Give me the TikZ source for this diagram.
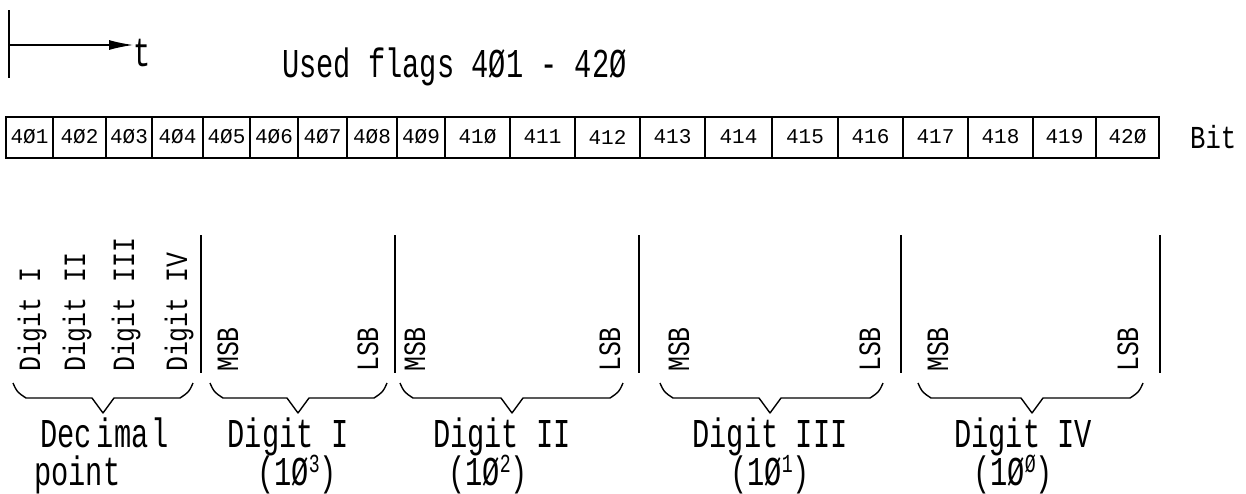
\documentclass[tikz,border=0pt]{standalone}
\usepackage{fontspec}
\newfontfamily\plotfont[FakeStretch=0.7]{Liberation Mono}
\newfontfamily\vertfont[FakeStretch=0.8]{Liberation Mono}
\newfontfamily\boxfont{Liberation Mono}
\usetikzlibrary{arrows.meta}
\newcommand\fsz[1]{\fontsize{#1}{#1}\selectfont}
\newcommand\upnum[1]{\raisebox{13pt}{\fsz{26}#1}}
\begin{document}
\begin{tikzpicture}[x=1pt,y=-1pt,
  bitbox/.style={draw,line width=2pt,inner sep=0pt,minimum height=41pt,font=\boxfont\fsz{21}},
  sepline/.style={line width=2.2pt},
  bracepath/.style={line width=1.4pt,line join=round},
  vlabel/.style={rotate=90,anchor=base west,inner sep=0pt,font=\vertfont\fsz{31}},
  blabel/.style={anchor=base,inner sep=0pt,font=\plotfont\fsz{41}},
  toplabel/.style={anchor=base west,inner sep=0pt,font=\plotfont\fsz{41}}]
\useasboundingbox (0,0) rectangle (1246,493);
% time arrow
\coordinate (bartop) at (9,10);
\coordinate (barbot) at (9,78);
\coordinate (astart) at (9,45);
\draw[line width=1.4pt] (bartop) -- (barbot);
\node[anchor=base west,inner sep=0pt,font=\plotfont\fsz{41}] (t) at (133,66) {t};
\draw[line width=1.2pt,-{Latex[length=24pt,width=10pt]}] (astart) -- (astart -| t.west);
\node[toplabel] (title) at (282,77) {Used flags 4Ø1 - 42Ø};
% bit row
\foreach \l/\r/\t [count=\i] in {6/53/4Ø1,53/106/4Ø2,106/152/4Ø3,152/203/4Ø4,203/250/4Ø5,
  250/298/4Ø6,298/347/4Ø7,347/397/4Ø8,397/445/4Ø9,445/510/41Ø,510/575/411,575/640/412,
  640/705/413,705/772/414,772/838/415,838/903/416,903/968/417,968/1033/418,1033/1096/419,1096/1159/42Ø}
  \node[bitbox,minimum width={(\r-\l)*1pt}] (b\i) at ({(\l+\r)/2},137) {\t};
\node[anchor=base west,inner sep=0pt,font=\vertfont\fsz{32}] (bit) at (1190,148) {Bit};
% separators
\foreach \x [count=\i] in {201,395,639,901,1160}{
  \coordinate (s\i a) at (\x,235);
  \coordinate (s\i b) at (\x,373);
  \draw[sepline] (s\i a) -- (s\i b);
}
% vertical labels
\node[vlabel] (d1) at (40,372) {Digit I};
\node[vlabel] (d2) at (85,372) {Digit II};
\node[vlabel] (d3) at (134,372) {Digit III};
\node[vlabel] (d4) at (187,372) {Digit IV};
\foreach \m/\s [count=\i] in {228/368,415/610,679/870,938/1128}{
  \node[vlabel] (msb\i) at (\m+10,372) {MSB};
  \node[vlabel] (lsb\i) at (\s+10,372) {LSB};
}
% braces
\foreach \a/\m/\b in {13/103/193,210/298/387,400/512/623,660/770/883,918/1032/1143}
  \draw[bracepath] (\a,383) .. controls (\a+4,392) .. (\a+13,398) -- (\m-11,398) -- (\m,413)
     -- (\m+11,398) -- (\b-13,398) .. controls (\b-4,392) .. (\b,383);
% bottom labels
\node[blabel,anchor=base west] (dp1) at (40,447) {Dec\hspace{5pt}ima\hspace{3pt}l};
\node[blabel,anchor=base west] (dp2) at (34,485) {point};
\node[blabel] (g1) at (288,447) {Digit I};
\node[blabel] (p1) at (297,485) {(1Ø\upnum{3})};
\node[blabel] (g2) at (502,447) {Digit II};
\node[blabel] (p2) at (488,485) {(1Ø\upnum{2})};
\node[blabel] (g3) at (770,447) {Digit III};
\node[blabel] (p3) at (770,485) {(1Ø\upnum{1})};
\node[blabel] (g4) at (1023,447) {Digit IV};
\node[blabel] (p4) at (1013,485) {(1Ø\upnum{Ø})};
\end{tikzpicture}
\end{document}
